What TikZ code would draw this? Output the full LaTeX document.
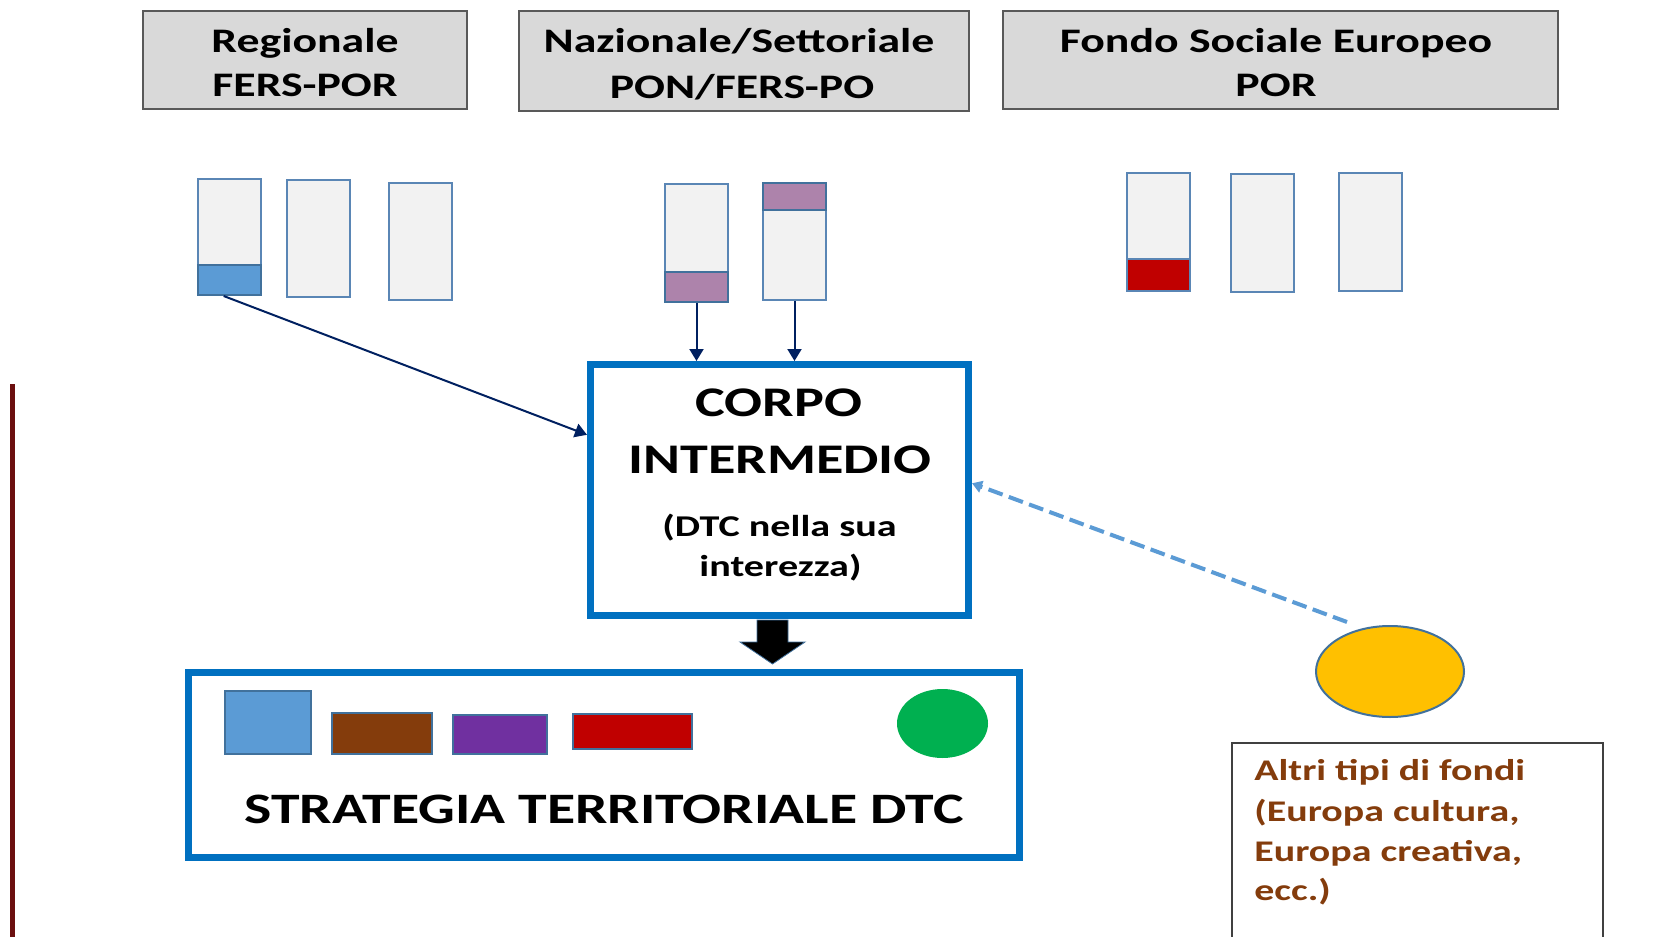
\documentclass[tikz,border=0pt]{standalone}
\usepackage{fontspec}
\setmainfont{Carlito}[FakeStretch=1.33]
\usetikzlibrary{arrows.meta,shapes.geometric}
\definecolor{hdrfill}{HTML}{D9D9D9}
\definecolor{hdrline}{HTML}{595959}
\definecolor{barfill}{HTML}{F2F2F2}
\definecolor{barline}{HTML}{5A86B5}
\definecolor{accblue}{HTML}{5B9BD5}
\definecolor{accblueline}{HTML}{41719C}
\definecolor{accpurple}{HTML}{AD83AB}
\definecolor{accred}{HTML}{C00000}
\definecolor{navyc}{HTML}{002060}
\definecolor{boxblue}{HTML}{0070C0}
\definecolor{brownfill}{HTML}{843C0C}
\definecolor{violetfill}{HTML}{7030A0}
\definecolor{greenfill}{HTML}{00B050}
\definecolor{yellowfill}{HTML}{FFC000}
\definecolor{browntext}{HTML}{843C0C}
\definecolor{leftlinec}{HTML}{6B0F0F}
\definecolor{noteline}{HTML}{404040}
\newcommand\fhdr{\fontsize{17.2pt}{20pt}\selectfont\bfseries}
\newcommand\fcorpo{\fontsize{21.1pt}{24pt}\selectfont\bfseries}
\newcommand\fdtc{\fontsize{15.1pt}{17pt}\selectfont\bfseries}
\newcommand\fstrat{\fontsize{21.7pt}{25pt}\selectfont\bfseries}
\newcommand\falt{\fontsize{15pt}{18pt}\selectfont\bfseries}
% name, style, x1, y1, x2, y2 (outer extents in px), line width in px
\newcommand\pxbox[7]{%
  \node[pxnode, #2, line width={#7*0.5pt}, minimum width={(#5-#3-#7)*0.5pt},
        minimum height={(#6-#4-#7)*0.5pt}] (#1) at ({(#3+#5)/2},{(#4+#6)/2}) {};}
\tikzset{
  pxnode/.style={rectangle, inner sep=0pt},
  hdrbox/.style={draw=hdrline, fill=hdrfill},
  barbox/.style={draw=barline, fill=barfill},
  lbl/.style={anchor=base, inner sep=0pt},
  navyarrow/.style={draw=navyc, line width=1pt, -{Triangle[length=6pt,width=7pt]}},
  dasharrow/.style={draw=accblue, line width=2pt, dash pattern=on 7.5pt off 3.3pt,
        -{Triangle[length=5pt,width=6pt]}},
}
\begin{document}
\begin{tikzpicture}[x=0.5pt,y=-0.5pt]
\useasboundingbox (0,0) rectangle (1656,937);
\fill[white] (0,0) rectangle (1656,937);

% headers
\pxbox{h1}{hdrbox}{142}{10}{468}{110}{2}
\pxbox{h2}{hdrbox}{518}{10}{970}{112}{2}
\pxbox{h3}{hdrbox}{1002}{10}{1559}{110}{2}
\node[lbl, font=\fhdr] (h1a) at (305,52) {Regionale};
\node[lbl, font=\fhdr] (h1b) at (305,97) {FERS-POR};
\node[lbl, font=\fhdr] (h2a) at (739,52) {Nazionale/Settoriale};
\node[lbl, font=\fhdr] (h2b) at (742,98) {PON/FERS-PO};
\node[lbl, font=\fhdr] (h3a) at (1276,52) {Fondo Sociale Europeo};
\node[lbl, font=\fhdr] (h3b) at (1276,97) {POR};

% bars group 1
\pxbox{bar1}{barbox}{197}{178}{262}{296}{2}
\pxbox{blue1}{draw=accblueline, fill=accblue}{197}{264}{262}{296}{2}
\pxbox{bar2}{barbox}{286}{179}{351}{298}{2}
\pxbox{bar3}{barbox}{388}{182}{453}{301}{2}
% bars group 2
\pxbox{barA}{barbox}{664}{183}{729}{303}{2}
\pxbox{purpA}{draw=accblueline, fill=accpurple}{664}{271}{729}{303}{2}
\pxbox{barB}{barbox}{762}{182}{827}{301}{2}
\pxbox{purpB}{draw=accblueline, fill=accpurple}{762}{182}{827}{211}{2}
% bars group 3
\pxbox{barR1}{barbox}{1126}{172}{1191}{292}{2}
\pxbox{redR1}{draw=barline, fill=accred}{1126}{258}{1191}{292}{2}
\pxbox{barR2}{barbox}{1230}{173}{1295}{293}{2}
\pxbox{barR3}{barbox}{1338}{172}{1403}{292}{2}

% corpo intermedio
\pxbox{corpo}{draw=boxblue, fill=white}{587}{361}{972}{619}{7}
\node[lbl, font=\fcorpo] (c1) at (779,416) {CORPO};
\node[lbl, font=\fcorpo] (c2) at (780,473) {INTERMEDIO};
\node[lbl, font=\fdtc] (c3) at (779.5,536) {(DTC nella sua};
\node[lbl, font=\fdtc] (c4) at (780.5,576) {interezza)};

% strategia
\pxbox{strat}{draw=boxblue, fill=white}{185}{669}{1023}{861}{7}
\pxbox{sq1}{draw=accblueline, fill=accblue}{224}{690}{312}{755}{2}
\pxbox{sq2}{draw=accblueline, fill=brownfill}{331}{712}{433}{755}{2}
\pxbox{sq3}{draw=accblueline, fill=violetfill}{452}{714}{548}{755}{2}
\pxbox{sq4}{draw=accblueline, fill=accred}{572}{713}{693}{750}{2}
\node[ellipse, fill=greenfill, inner sep=0pt, minimum width=45.5pt, minimum height=34.5pt] (gr) at (942.5,723.5) {};
\node[lbl, font=\fstrat] (st) at (604,823) {STRATEGIA TERRITORIALE DTC};

% block arrow
\draw[fill=black, draw=accblueline, line width=0.4pt]
  (757,620) -- (788,620) -- (788,642) -- (805,642) -- (772.5,664) -- (740,642) -- (757,642) -- cycle;

% yellow fund and note
\node[ellipse, fill=yellowfill, draw=accblueline, line width=1pt, inner sep=0pt,
      minimum width=74pt, minimum height=45.5pt] (yel) at (1390,671.5) {};
\pxbox{note}{draw=noteline}{1231}{742}{1604}{946}{2}
\node[lbl, anchor=base west, font=\falt, text=browntext] (n1) at (1254,780) {Altri tipi di fondi};
\node[lbl, anchor=base west, font=\falt, text=browntext] (n2) at (1254,821) {(Europa cultura,};
\node[lbl, anchor=base west, font=\falt, text=browntext] (n3) at (1254,861) {Europa creativa,};
\node[lbl, anchor=base west, font=\falt, text=browntext] (n4) at (1254,900.5) {ecc.)};

% connectors
\draw[navyarrow] (blue1.250) -- (corpo.164);
\draw[navyarrow] (purpA.south) -- (purpA.south |- corpo.north);
\draw[navyarrow] (barB.south) -- (barB.south |- corpo.north);
\coordinate (yend) at (1347,622);
\draw[dasharrow] (yend) -- (corpo.2);

% left rule
\draw[leftlinec, line width=2.5pt] (12.5,384) -- (12.5,940);
\end{tikzpicture}
\end{document}
